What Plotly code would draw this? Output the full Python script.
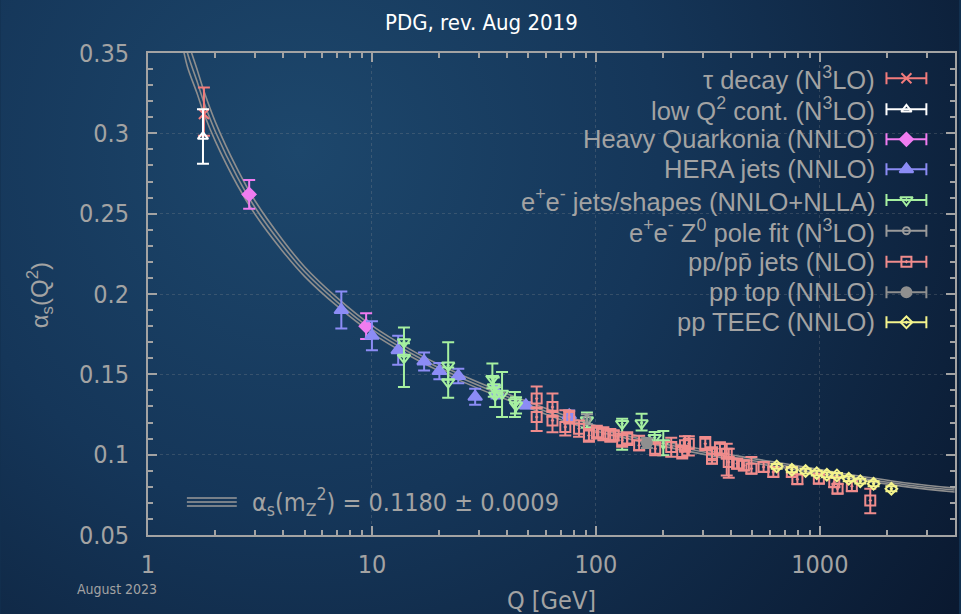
import base64
import plotly.graph_objects as go

# ---------------- data ----------------
curve_q = [1.42, 1.5, 1.65, 1.78, 2.0, 2.5, 3.0, 4.0, 5.0, 7.0, 10, 15, 20, 30, 50, 91.2,
           150, 250, 400, 700, 1000, 1500, 2500, 4000]
curve_mid = [0.365, 0.350, 0.333, 0.319, 0.301, 0.273, 0.254, 0.230, 0.214, 0.195, 0.178,
             0.163, 0.154, 0.143, 0.131, 0.118, 0.1105, 0.104, 0.0985, 0.093, 0.0895,
             0.0855, 0.081, 0.078]
curve_hi = [0.374, 0.3585, 0.3405, 0.326, 0.307, 0.278, 0.2582, 0.2335, 0.217, 0.1976,
            0.1803, 0.1651, 0.156, 0.1449, 0.1328, 0.1197, 0.1121, 0.1055, 0.0999, 0.0943,
            0.0908, 0.0867, 0.0822, 0.0792]
curve_lo = [0.356, 0.3415, 0.3255, 0.312, 0.295, 0.268, 0.2498, 0.2265, 0.211, 0.1924,
            0.1757, 0.1609, 0.152, 0.1411, 0.1292, 0.1163, 0.1089, 0.1025, 0.0971, 0.0917,
            0.0882, 0.0843, 0.0798, 0.0768]

tau_q = [1.777]
tau_a = [0.312]
tau_ep = [0.0165]
tau_em = [0.0135]

lowq_q = [1.76]
lowq_a = [0.298]
lowq_ep = [0.017]
lowq_em = [0.017]

hq_q = [2.83, 9.42]
hq_a = [0.262, 0.180]
hq_ep = [0.009, 0.008]
hq_em = [0.009, 0.008]

hera_q = [7.3, 10.0, 13.1, 17.1, 20.0, 24.3, 28.9, 36.0, 48.7, 76.0]
hera_a = [0.190, 0.174, 0.165, 0.158, 0.152, 0.149, 0.136, 0.139, 0.1307, 0.1245]
hera_ep = [0.0115, 0.009, 0.009, 0.0056, 0.005, 0.0045, 0.005, 0.004, 0.002, 0.003]
hera_em = [0.0115, 0.009, 0.009, 0.0056, 0.005, 0.0045, 0.005, 0.004, 0.002, 0.003]

ee_q = [13.9, 13.9, 21.9, 21.9, 34.5, 35.0, 35.5, 38.1, 43.5, 44.0, 91.2, 131, 160, 183, 200]
ee_a = [0.1702, 0.1604, 0.1556, 0.1452, 0.1473, 0.1421, 0.137, 0.138, 0.1328, 0.1307,
        0.1215, 0.1193, 0.1197, 0.1106, 0.1072]
ee_ep = [0.0089, 0.0089, 0.0144, 0.009, 0.0094, 0.006, 0.005, 0.0134, 0.0062, 0.005,
         0.0047, 0.003, 0.0058, 0.0035, 0.0075]
ee_em = [0.0089, 0.0183, 0.009, 0.0097, 0.006, 0.006, 0.0074, 0.0146, 0.0094, 0.005,
         0.0047, 0.0163, 0.0047, 0.0035, 0.0075]

z0_q = [91.2]
z0_a = [0.1221]
z0_e = [0.0031]

pp_q = [54.4, 54.4, 64.0, 64.0, 73.0, 76.0, 84.1, 93.1, 101, 108, 116, 120, 131, 138, 156,
        184, 217, 243, 250, 260, 308, 330, 330, 358, 384, 392, 427, 458, 495, 561, 620,
        750, 794, 990, 1160, 1200, 1390, 1680]
pp_a = [0.1349, 0.1234, 0.1296, 0.1213, 0.1172, 0.1234, 0.1162, 0.112, 0.114, 0.113, 0.112,
        0.112, 0.109, 0.110, 0.1058, 0.1037, 0.1047, 0.1016, 0.1058, 0.1068, 0.1068, 0.1006,
        0.0975, 0.1037, 0.1006, 0.0954, 0.0944, 0.0933, 0.0913, 0.0923, 0.0892, 0.0892,
        0.0847, 0.0850, 0.0829, 0.0788, 0.0804, 0.0715]
pp_ep = [0.0076, 0.006, 0.0084, 0.006, 0.0104, 0.004, 0.005, 0.004, 0.004, 0.004, 0.004,
         0.003, 0.004, 0.004, 0.006, 0.004, 0.0059, 0.004, 0.0056, 0.0046, 0.0042, 0.004,
         0.003, 0.004, 0.0062, 0.0083, 0.003, 0.003, 0.0072, 0.003, 0.003, 0.003, 0.003,
         0.003, 0.003, 0.003, 0.003, 0.0073]
pp_em = [0.006, 0.0087, 0.006, 0.0073, 0.0052, 0.004, 0.005, 0.004, 0.004, 0.004, 0.004,
         0.003, 0.004, 0.004, 0.003, 0.004, 0.006, 0.004, 0.004, 0.0073, 0.004, 0.004,
         0.003, 0.004, 0.0135, 0.0097, 0.003, 0.003, 0.003, 0.003, 0.003, 0.003, 0.003,
         0.003, 0.003, 0.003, 0.003, 0.0079]

top_q = [169]
top_a = [0.1072]
top_e = [0.003]

teec_q = [642, 750, 864, 969, 1075, 1192, 1346, 1516, 1738, 2087]
teec_a = [0.0927, 0.0906, 0.0898, 0.0885, 0.0875, 0.0871, 0.085, 0.0835, 0.0819, 0.0788]
teec_e = [0.0015] * 10

x_ticks = [1, 10, 100, 1000]
x_ticktext = ["1", "10", "100", "1000"]
x_minor = [2, 3, 4, 5, 6, 7, 8, 9, 20, 30, 40, 50, 60, 70, 80, 90,
           200, 300, 400, 500, 600, 700, 800, 900, 2000, 3000]
y_ticks = [0.05, 0.1, 0.15, 0.2, 0.25, 0.3, 0.35]
y_ticktext = ["0.05", "0.1", "0.15", "0.2", "0.25", "0.3", "0.35"]

legend_names = [
    "τ decay (N<sup>3</sup>LO)",
    "low Q<sup>2</sup> cont. (N<sup>3</sup>LO)",
    "Heavy Quarkonia (NNLO)",
    "HERA jets (NNLO)",
    "e<sup>+</sup>e<sup>-</sup> jets/shapes (NNLO+NLLA)",
    "e<sup>+</sup>e<sup>-</sup> Z<sup>0</sup> pole fit (N<sup>3</sup>LO)",
    "pp/pp\u0304 jets (NLO)",
    "pp top (NNLO)",
    "pp TEEC (NNLO)",
]

# ---------------- styles ----------------
C_TAU = "#f27b7b"
C_LOW = "#ffffff"
C_HQ = "#f07cf0"
C_HERA = "#8c8cf5"
C_EE = "#a6f0a0"
C_Z0 = "#9a9a9a"
C_PP = "#f08c8c"
C_TOP = "#8f8f8f"
C_TEEC = "#f4f48c"
GRAY = "#a3a3a3"
NARROW = "Liberation Sans Narrow, Arial Narrow, DejaVu Sans Condensed, sans-serif"
REG = "Liberation Sans, Arial, sans-serif"

series = [
    (tau_q, tau_a, tau_ep, tau_em, C_TAU, "x-thin-open", 10),
    (lowq_q, lowq_a, lowq_ep, lowq_em, C_LOW, "triangle-up-open", 9),
    (hq_q, hq_a, hq_ep, hq_em, C_HQ, "diamond", 10),
    (hera_q, hera_a, hera_ep, hera_em, C_HERA, "triangle-up", 12),
    (ee_q, ee_a, ee_ep, ee_em, C_EE, "triangle-down-open-dot", 11),
    (z0_q, z0_a, z0_e, z0_e, C_Z0, "circle-open", 7),
    (pp_q, pp_a, pp_ep, pp_em, C_PP, "square-open-dot", 10),
    (top_q, top_a, top_e, top_e, C_TOP, "circle", 10),
    (teec_q, teec_a, teec_e, teec_e, C_TEEC, "diamond-open-dot", 9),
]

fig = go.Figure()

# running coupling band (three lines)
for arr in (curve_hi, curve_mid, curve_lo):
    fig.add_trace(go.Scatter(x=curve_q, y=arr, mode="lines",
                             line=dict(color="#8e8e8e", width=1.6, shape="spline"),
                             hoverinfo="skip", showlegend=False))

for q, a, ep, em, col, sym, sz in series:
    fig.add_trace(go.Scatter(
        x=q, y=a, mode="markers", showlegend=False,
        marker=dict(symbol=sym, size=sz, color=col, line=dict(color=col, width=2)),
        error_y=dict(type="data", array=ep, arrayminus=em, symmetric=False,
                     color=col, thickness=2, width=6),
    ))

# ---------------- geometry ----------------
W, H = 961, 614
L, R, T, B = 148, 957, 53, 535
PW, PH = R - L, B - T


def px(x):
    return (x - L) / PW


def py(y):
    return (B - y) / PH


# manual legend (text left of symbol), markers on a hidden overlay axis
row_y = [78.3, 109.3, 139.3, 169.3, 200, 230.7, 261.7, 292.3, 322.3]
sym_x = 908.3
half = 20
for i, (q, a, ep, em, col, sym, sz) in enumerate(series):
    fig.add_trace(go.Scatter(
        x=[px(sym_x)], y=[py(row_y[i])], xaxis="x2", yaxis="y2", mode="markers",
        showlegend=False, hoverinfo="skip",
        marker=dict(symbol=sym, size=sz, color=col, line=dict(color=col, width=2)),
        error_x=dict(type="constant", value=half / PW, color=col, thickness=2, width=6),
    ))
    fig.add_annotation(x=px(879), y=py(row_y[i]), xref="paper", yref="paper",
                       xanchor="right", yanchor="middle", showarrow=False,
                       text=legend_names[i], font=dict(family=REG, size=25.5, color=GRAY))

# band legend lines at bottom left
for yy in (498, 502, 506):
    fig.add_shape(type="line", xref="paper", yref="paper",
                  x0=px(187), x1=px(237), y0=py(yy), y1=py(yy),
                  line=dict(color="#9a9a9a", width=1.6))
fig.add_annotation(x=px(250), y=py(502), xref="paper", yref="paper", xanchor="left",
                   yanchor="middle", showarrow=False,
                   text="α<sub>s</sub>(m<sub>Z</sub><sup>2</sup>) = 0.1180 ± 0.0009",
                   font=dict(family=NARROW, size=25, color=GRAY))

# titles & labels
fig.add_annotation(x=px(482), y=py(22), xref="paper", yref="paper", showarrow=False,
                   xanchor="center", yanchor="middle", text="PDG, rev. Aug 2019",
                   font=dict(family=NARROW, size=22, color="#ffffff"))
fig.add_annotation(x=px(552), y=py(600), xref="paper", yref="paper", showarrow=False,
                   xanchor="center", yanchor="middle", text="Q [GeV]",
                   font=dict(family=NARROW, size=25, color=GRAY))
fig.add_annotation(x=px(117), y=py(589), xref="paper", yref="paper", showarrow=False,
                   xanchor="center", yanchor="middle", text="August 2023",
                   font=dict(family=NARROW, size=14, color=GRAY))
fig.add_annotation(x=px(40), y=py(295), xref="paper", yref="paper", showarrow=False,
                   xanchor="center", yanchor="middle", textangle=-90,
                   text="α<sub>s</sub>(Q<sup>2</sup>)",
                   font=dict(family=REG, size=24, color=GRAY))

# gradient background as an inline SVG image
svg = (
    "<svg xmlns='http://www.w3.org/2000/svg' width='961' height='614'>"
    "<defs><radialGradient id='g' gradientUnits='userSpaceOnUse' cx='300' cy='150' r='800'>"
    "<stop offset='0' stop-color='#1d476c'/>"
    "<stop offset='0.45' stop-color='#153659'/>"
    "<stop offset='1' stop-color='#0a1930'/>"
    "</radialGradient></defs>"
    "<rect width='961' height='614' fill='url(#g)'/></svg>"
)
src = "data:image/svg+xml;base64," + base64.b64encode(svg.encode()).decode()
fig.add_layout_image(source=src, xref="paper", yref="paper", x=px(0), y=py(0),
                     sizex=W / PW, sizey=H / PH, xanchor="left", yanchor="top",
                     sizing="stretch", layer="below")

axis_common = dict(
    showline=True, linecolor=GRAY, linewidth=2, mirror="ticks",
    ticks="inside", tickcolor=GRAY, tickwidth=2, ticklen=9,
    tickfont=dict(family=NARROW, size=25, color=GRAY),
    showgrid=True, gridcolor="rgba(150,150,150,0.25)", griddash="dot", gridwidth=1,
    zeroline=False,
)

fig.update_layout(
    width=W, height=H,
    margin=dict(l=L, r=W - R, t=T, b=H - B),
    paper_bgcolor="#12304f", plot_bgcolor="rgba(0,0,0,0)",
    showlegend=False,
    xaxis=dict(type="log", range=[0, 3.6036], tickvals=x_ticks, ticktext=x_ticktext,
               ticklabelstandoff=6,
               minor=dict(tickvals=x_minor, ticks="inside", ticklen=5, tickcolor=GRAY,
                          tickwidth=2, showgrid=False),
               **axis_common),
    yaxis=dict(range=[0.05, 0.35], tickvals=y_ticks, ticktext=y_ticktext,
               ticklabelstandoff=12,
               minor=dict(dtick=0.01, ticks="inside", ticklen=5, tickcolor=GRAY,
                          tickwidth=2, showgrid=False),
               **axis_common),
    xaxis2=dict(overlaying="x", range=[0, 1], visible=False, anchor="y2"),
    yaxis2=dict(overlaying="y", range=[0, 1], visible=False, anchor="x2"),
)

fig.write_html("out.html")
